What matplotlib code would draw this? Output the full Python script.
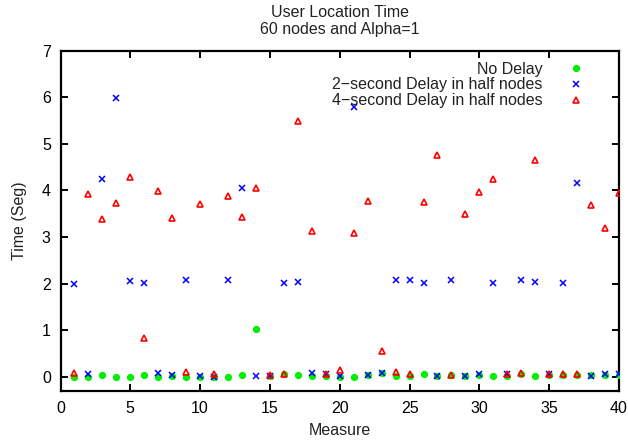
import matplotlib
matplotlib.use("Agg")
import matplotlib.pyplot as plt

plt.rcParams['font.family'] = ['Liberation Sans', 'DejaVu Sans']

measures = list(range(1, 41))

no_delay = [0.0, 0.0, 0.04, 0.0, 0.0, 0.04, 0.0, 0.03, 0.0, 0.0,
            0.0, 0.0, 0.04, 1.02, 0.03, 0.06, 0.04, 0.03, 0.03, 0.0,
            0.0, 0.04, 0.08, 0.03, 0.03, 0.07, 0.03, 0.04, 0.03, 0.04,
            0.03, 0.03, 0.07, 0.03, 0.05, 0.05, 0.05, 0.05, 0.05, 0.05]

delay2 = [2.0, 0.07, 4.24, 5.98, 2.06, 2.02, 0.08, 0.04, 2.09, 0.03,
          0.01, 2.08, 4.05, 0.03, 0.03, 2.02, 2.04, 0.08, 0.06, 0.03,
          5.78, 0.05, 0.08, 2.09, 2.09, 2.01, 0.03, 2.09, 0.03, 0.07,
          2.01, 0.07, 2.09, 2.04, 0.06, 2.01, 4.16, 0.03, 0.06, 0.06]

delay4 = [0.08, 3.92, 3.39, 3.73, 4.29, 0.83, 3.99, 3.41, 0.11, 3.70,
          0.06, 3.89, 3.44, 4.06, 0.05, 0.07, 5.48, 3.13, 0.06, 0.15,
          3.08, 3.78, 0.56, 0.10, 0.06, 3.76, 4.77, 0.05, 3.50, 3.96,
          4.25, 0.07, 0.09, 4.66, 0.06, 0.06, 0.07, 3.68, 3.20, 3.94]

labels = ["No Delay", "2\u2212second Delay in half nodes", "4\u2212second Delay in half nodes"]
xticks = [0, 5, 10, 15, 20, 25, 30, 35, 40]
yticks = [0, 1, 2, 3, 4, 5, 6, 7]

W, H = 628, 441
left, right, top, bottom = 60.5, 619, 50.5, 391
fig = plt.figure(figsize=(W / 100, H / 100), dpi=100)
ax = fig.add_axes([left / W, 1 - bottom / H, (right - left) / W, (bottom - top) / H])

ax.plot(measures, no_delay, linestyle='none', marker='o', markersize=4.2,
        color='#00ee00', markeredgecolor='#00ee00', label=labels[0], zorder=3)
ax.plot(measures, delay2, linestyle='none', marker='x', markersize=4.6,
        color='#0000ff', markeredgewidth=1.1, label=labels[1], zorder=4)
ax.plot(measures, delay4, linestyle='none', marker='^', markersize=4.6,
        markerfacecolor='none', markeredgecolor='#ff0000', markeredgewidth=1.2,
        label=labels[2], zorder=5)

ax.set_xlim(0, 40)
ax.set_ylim(-0.3, 7)
ax.set_xticks(xticks)
ax.set_yticks(yticks)
ax.tick_params(direction='in', top=True, right=True, length=5, width=1.4,
               labelsize=11.5, colors='black', pad=7)
for s in ax.spines.values():
    s.set_linewidth(1.6)

ax.set_xlabel("Measure", fontsize=11.5, color='#222222', labelpad=5)
ax.set_ylabel("Time (Seg)", fontsize=11.5, color='#222222', labelpad=11)
ax.set_title("User Location Time\n60 nodes and Alpha=1", fontsize=11.5,
             color='#222222', linespacing=1.15, pad=12)

leg = ax.legend(loc='upper right', frameon=False, markerfirst=False,
                fontsize=11.5, handlelength=1.0, handletextpad=1.55,
                labelspacing=0.05, borderaxespad=0.3,
                bbox_to_anchor=(0.9565, 1.0))
for t in leg.get_texts():
    t.set_ha('right')
    t.set_color('#222222')

fig.savefig("out.png", dpi=100)
